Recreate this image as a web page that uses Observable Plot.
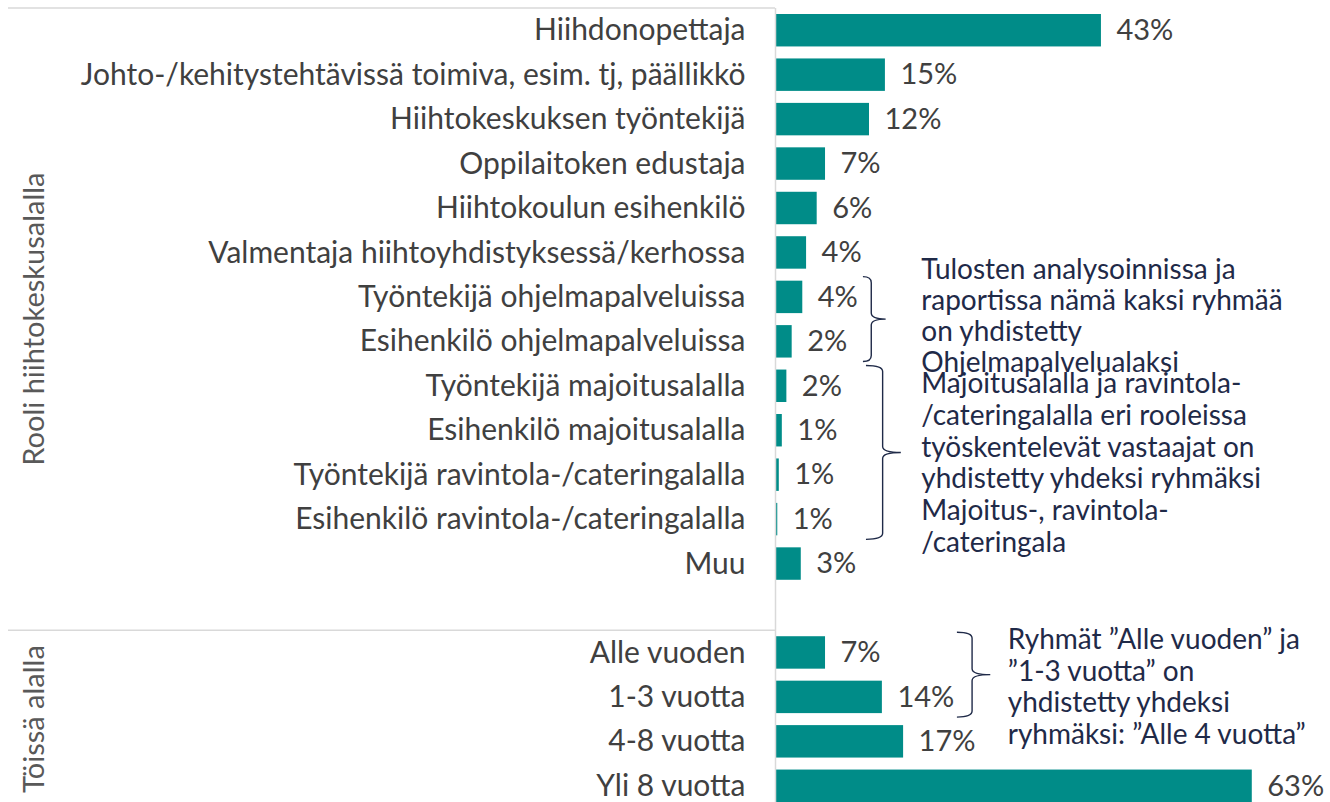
<!DOCTYPE html>
<html>
<head>
<meta charset="utf-8">
<script src="https://cdn.jsdelivr.net/npm/d3@7"></script>
<script src="https://cdn.jsdelivr.net/npm/@observablehq/plot@0.6"></script>
<style>
  html, body { margin: 0; padding: 0; background: #ffffff; }
  #chart svg { display: block; }
</style>
</head>
<body>
<div id="chart"></div>
<script>
// ---- data ----
const categories = [
  "Hiihdonopettaja",
  "Johto-/kehitystehtävissä toimiva, esim. tj, päällikkö",
  "Hiihtokeskuksen työntekijä",
  "Oppilaitoken edustaja",
  "Hiihtokoulun esihenkilö",
  "Valmentaja hiihtoyhdistyksessä/kerhossa",
  "Työntekijä ohjelmapalveluissa",
  "Esihenkilö ohjelmapalveluissa",
  "Työntekijä majoitusalalla",
  "Esihenkilö majoitusalalla",
  "Työntekijä ravintola-/cateringalalla",
  "Esihenkilö ravintola-/cateringalalla",
  "Muu",
  "",
  "Alle vuoden",
  "1-3 vuotta",
  "4-8 vuotta",
  "Yli 8 vuotta"
];
const values = [43, 14.5, 12.4, 6.6, 5.5, 4.1, 3.6, 2.2, 1.5, 0.9, 0.5, 0.3, 3.4, null, 6.6, 14.1, 16.9, 62.9];
const valueLabels = ["43%", "15%", "12%", "7%", "6%", "4%", "4%", "2%", "2%", "1%", "1%", "1%", "3%", "", "7%", "14%", "17%", "63%"];

const groupNames = ["Rooli hiihtokeskusalalla", "Töissä alalla"];
const groupFirst = ["Hiihdonopettaja", "Alle vuoden"];
const groupLast = ["", "Yli 8 vuotta"];

const noteTexts = [
  ["Tulosten analysoinnissa ja", "raportissa nämä kaksi ryhmää", "on yhdistetty", "Ohjelmapalvelualaksi"],
  ["Majoitusalalla ja ravintola-", "/cateringalalla eri rooleissa", "työskentelevät vastaajat on", "yhdistetty yhdeksi ryhmäksi", "Majoitus-, ravintola-", "/cateringala"],
  ["Ryhmät ”Alle vuoden” ja", "”1-3 vuotta” on", "yhdistetty yhdeksi", "ryhmäksi: ”Alle 4 vuotta”"]
];
const noteFrom = ["Työntekijä ohjelmapalveluissa", "Työntekijä majoitusalalla", "Alle vuoden"];
const noteTo = ["Esihenkilö ohjelmapalveluissa", "Esihenkilö ravintola-/cateringalalla", "1-3 vuotta"];

// ---- layout (not data) ----
const FONT = "Lato, 'Open Sans', sans-serif";
const BAR = "#008C88";
const LABEL = "#404040";
const NAVY = "#1F2A48";
const GRID = "#d9d9d9";
// brace x positions (in x-scale units): ends, spine, tip; text x; text center offset
const braceLayout = [
  {end: 11.6, spine: 12.7, tip: 14.6, text: 19.3, lh: 31, dy: -5},
  {end: 12.0, spine: 14.2, tip: 16.6, text: 19.3, lh: 31.8, dy: 9},
  {end: 24.0, spine: 26.0, tip: 28.4, text: 30.7, lh: 31.5, dy: 11}
];

const rows = categories.map((c, i) => ({cat: c, value: values[i], label: valueLabels[i]})).filter(d => d.value != null);

const chart = Plot.plot({
  width: 1330,
  height: 802,
  marginLeft: 775,
  marginRight: 0,
  marginTop: 8,
  marginBottom: 0,
  style: {fontFamily: FONT, background: "white"},
  x: {domain: [0, 100], range: [775, 1533], axis: null},
  y: {domain: categories, range: [8, 808], paddingInner: 0.27, paddingOuter: 0.135, round: false},
  marks: [
    Plot.barX(rows, {x: "value", y: "cat", fill: BAR}),
    Plot.text(rows, {x: "value", y: "cat", text: "label", dx: 15, textAnchor: "start", fontSize: 29, fill: LABEL}),
    Plot.axisY({tickSize: 0, tickPadding: 30, fontSize: 30, color: LABEL, label: null}),
    Plot.ruleX([0], {stroke: GRID, strokeWidth: 1.5})
  ]
});
document.getElementById("chart").appendChild(chart);

// ---- extras drawn with the plot's scales ----
const xs = chart.scale("x");
const ys = chart.scale("y");
const step = ys.apply(categories[1]) - ys.apply(categories[0]);
const bw = ys.bandwidth;
const center = c => ys.apply(c) + bw / 2;
const bandTop = c => center(c) - step / 2;
const bandBottom = c => center(c) + step / 2;
const svg = d3.select(chart);

// separator lines for groups
groupFirst.forEach(c => {
  svg.append("line")
    .attr("x1", 8).attr("x2", xs.apply(0))
    .attr("y1", bandTop(c)).attr("y2", bandTop(c))
    .attr("stroke", GRID).attr("stroke-width", 1.5);
});

// rotated group labels
groupNames.forEach((g, i) => {
  const yc = (bandTop(groupFirst[i]) + bandBottom(groupLast[i])) / 2;
  svg.append("text")
    .attr("transform", `translate(32,${yc}) rotate(-90)`)
    .attr("text-anchor", "middle")
    .attr("dominant-baseline", "central")
    .attr("font-family", FONT)
    .attr("font-size", 29)
    .attr("fill", "#595959")
    .text(g);
});

// braces and notes
noteTexts.forEach((lines, i) => {
  const L = braceLayout[i];
  const y0 = bandTop(noteFrom[i]) + 2;
  const y1 = bandBottom(noteTo[i]) - 2;
  const ym = (y0 + y1) / 2;
  const xe = xs.apply(L.end), xsp = xs.apply(L.spine), xt = xs.apply(L.tip);
  const r = 6;
  const p = `M${xe},${y0} Q${xsp},${y0} ${xsp},${y0 + r} L${xsp},${ym - r} Q${xsp},${ym} ${xt},${ym} Q${xsp},${ym} ${xsp},${ym + r} L${xsp},${y1 - r} Q${xsp},${y1} ${xe},${y1}`;
  svg.append("path").attr("d", p).attr("fill", "none").attr("stroke", NAVY).attr("stroke-width", 1.4);
  const t = svg.append("text")
    .attr("font-family", FONT)
    .attr("font-size", 28)
    .attr("text-anchor", "start")
    .attr("fill", NAVY);
  const n = lines.length;
  lines.forEach((ln, k) => {
    t.append("tspan")
      .attr("x", xs.apply(L.text))
      .attr("y", ym + L.dy + (k - (n - 1) / 2) * L.lh)
      .attr("dominant-baseline", "central")
      .text(ln);
  });
});
</script>
</body>
</html>
